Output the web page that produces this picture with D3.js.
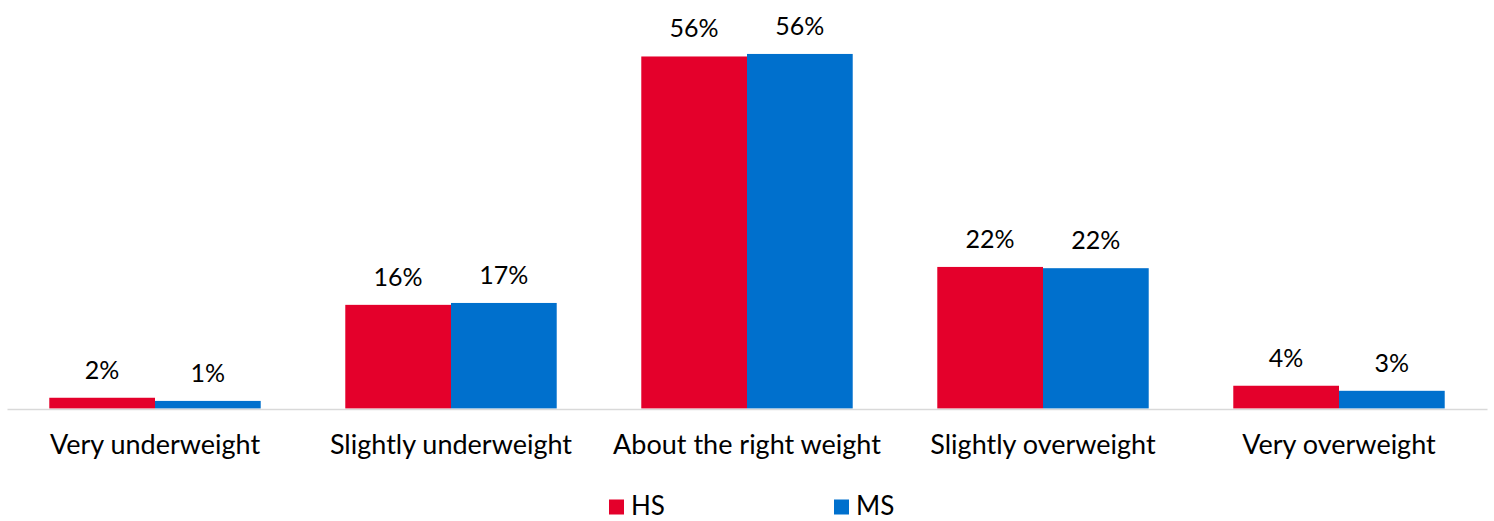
<!DOCTYPE html>
<html>
<head>
<meta charset="utf-8">
<script src="https://cdn.jsdelivr.net/npm/d3@7"></script>
<style>
  html, body { margin: 0; padding: 0; background: #fff; }
  svg { display: block; font-family: "Lato", "Open Sans", sans-serif; }
</style>
</head>
<body>
<svg id="chart" width="1494" height="521"></svg>
<script>
// Self-reported weight perception, by school level (percent of respondents)
const categories = ["Very underweight", "Slightly underweight", "About the right weight", "Slightly overweight", "Very overweight"];
const seriesNames = ["HS", "MS"];
const hsValues = [1.7, 16.4, 55.7, 22.4, 3.6];
const msValues = [1.2, 16.7, 56.1, 22.2, 2.8];
const seriesColors = ["#E4002B", "#0070CD"];

const svg = d3.select("#chart");
const margin = { left: 7, right: 7 };
const width = 1494;
const baseline = 408.5;

const x0 = d3.scaleBand()
  .domain(categories)
  .range([margin.left, width - margin.right])
  .paddingInner(0)
  .paddingOuter(0);

const x1 = d3.scaleBand()
  .domain(seriesNames)
  .range([0, x0.bandwidth()])
  .paddingInner(0)
  .paddingOuter(0.4);

const y = d3.scaleLinear().domain([0, 60]).range([baseline, 29.3]);
const color = d3.scaleOrdinal().domain(seriesNames).range(seriesColors);

const rows = categories.map((c, i) => ({
  category: c,
  values: [
    { series: "HS", value: hsValues[i] },
    { series: "MS", value: msValues[i] }
  ]
}));

// Bars
const groups = svg.append("g").selectAll("g")
  .data(rows)
  .join("g")
  .attr("transform", d => `translate(${x0(d.category)},0)`);

groups.selectAll("rect")
  .data(d => d.values)
  .join("rect")
  .attr("x", d => x1(d.series))
  .attr("y", d => y(d.value))
  .attr("width", x1.bandwidth())
  .attr("height", d => baseline - y(d.value))
  .attr("fill", d => color(d.series));

// Value labels
groups.selectAll("text")
  .data(d => d.values)
  .join("text")
  .attr("x", d => x1(d.series) + x1.bandwidth() / 2)
  .attr("y", d => y(d.value) - 19)
  .attr("text-anchor", "middle")
  .attr("font-size", 25)
  .attr("fill", "#000")
  .text(d => Math.round(d.value) + "%");

// Category axis
const xAxis = svg.append("g")
  .attr("transform", `translate(0,${baseline + 0.5})`)
  .call(d3.axisBottom(x0).tickSize(0).tickPadding(0).tickSizeOuter(0));
xAxis.select(".domain").attr("stroke", "#d9d9d9").attr("stroke-width", 1.5);
xAxis.selectAll("text")
  .attr("font-size", 27)
  .attr("font-family", "Lato, 'Open Sans', sans-serif")
  .attr("fill", "#000")
  .attr("dy", null)
  .attr("y", 45);

// Legend
const legendX = [609, 834];
const legend = svg.append("g").selectAll("g")
  .data(seriesNames)
  .join("g")
  .attr("transform", (d, i) => `translate(${legendX[i]},0)`);
legend.append("rect")
  .attr("x", 0).attr("y", 499.5)
  .attr("width", 15).attr("height", 15)
  .attr("fill", d => color(d));
legend.append("text")
  .attr("x", 22).attr("y", 515)
  .attr("font-size", 26)
  .attr("fill", "#000")
  .text(d => d);
</script>
</body>
</html>
